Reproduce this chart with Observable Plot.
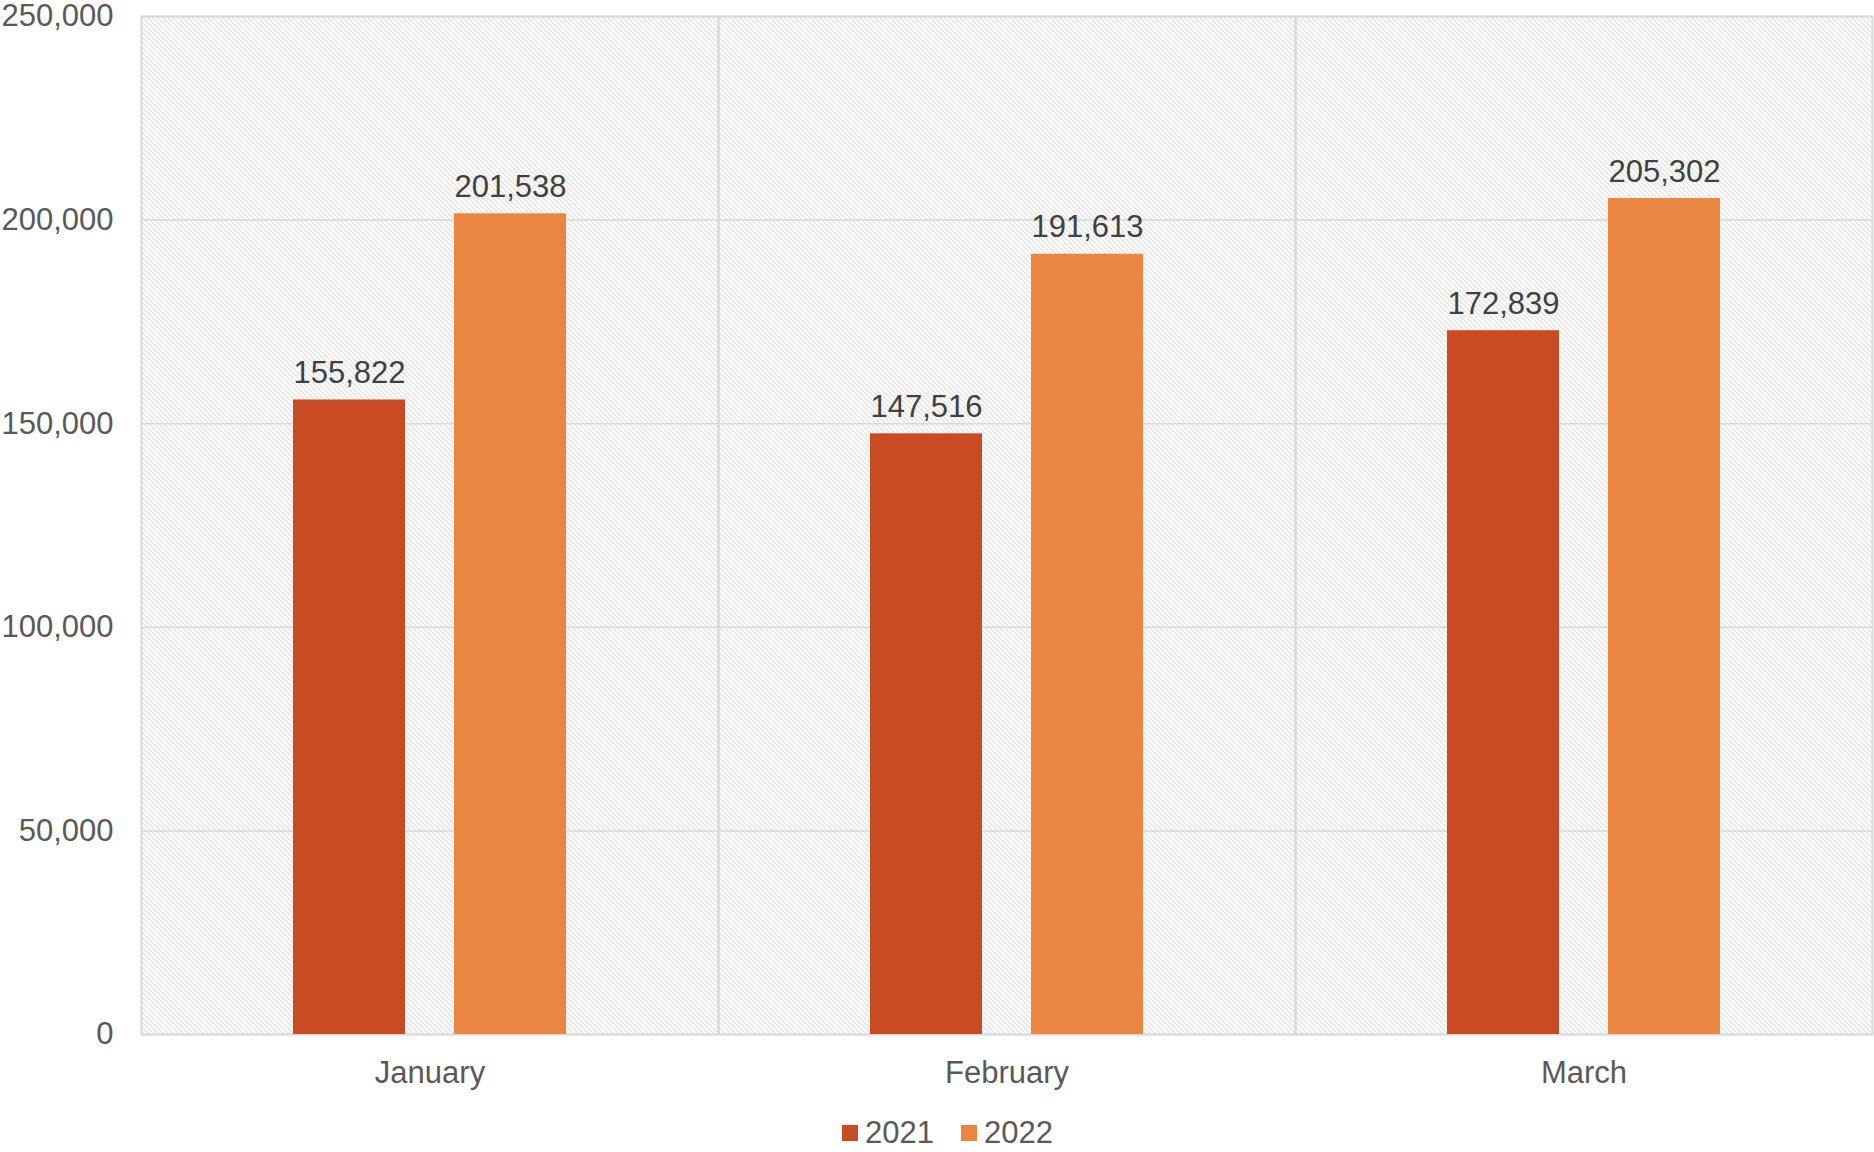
<!DOCTYPE html>
<html>
<head>
<meta charset="utf-8">
<script src="https://cdn.jsdelivr.net/npm/d3@7"></script>
<script src="https://cdn.jsdelivr.net/npm/@observablehq/plot@0.6"></script>
<style>
  body { margin: 0; background: #fff; font-family: "Liberation Sans", Arial, sans-serif; }
  #chart svg { display: block; }
  #legend { margin-top: 15px; margin-left: 842px; }
  #legend div { justify-content: flex-start !important; min-height: 0 !important; }
  #legend span { margin-right: 27px !important; line-height: normal; }
  #legend span svg { margin-right: 7px !important; }
</style>
</head>
<body>
<div id="chart"></div>
<div id="legend"></div>
<script>
const months = ["January", "February", "March"];
const years = ["2021", "2022"];
const values2021 = [155822, 147516, 172839];
const values2022 = [201538, 191613, 205302];
const yTicks = [0, 50000, 100000, 150000, 200000, 250000];
const colors = ["#C84B24", "#EA8641"];

const data = months.flatMap((m, i) => [
  {month: m, year: years[0], value: values2021[i]},
  {month: m, year: years[1], value: values2022[i]}
]);

const fmt = d3.format(",");
const font = '"Liberation Sans", Arial, sans-serif';

const plot = Plot.plot({
  width: 1874,
  height: 1100,
  marginLeft: 141,
  marginRight: 2,
  marginTop: 16,
  marginBottom: 66,
  style: {fontFamily: font, fontSize: "31px", color: "#595959", background: "#fff"},
  fx: {domain: months, padding: 0, label: null, axis: "bottom", tickSize: 0, tickPadding: 26},
  x: {domain: years, axis: null, paddingInner: 0.302, paddingOuter: 0.932},
  y: {domain: [0, 250000], ticks: yTicks, tickSize: 0, tickPadding: 28, tickFormat: fmt, label: null},
  color: {domain: years, range: colors},
  marks: [
    Plot.frame({fill: "url(#hatch)", stroke: null}),
    Plot.gridY(yTicks, {stroke: "#d9d9d9", strokeOpacity: 1, strokeWidth: 1.5}),
    Plot.frame({stroke: "#d9d9d9", strokeWidth: 2}),
    Plot.barY(data, {fx: "month", x: "year", y: "value", fill: "year"}),
    Plot.text(data, {
      fx: "month", x: "year", y: "value",
      text: d => fmt(d.value),
      lineAnchor: "bottom", dy: -17,
      fill: "#404040", fontSize: 31, fontFamily: font
    })
  ]
});

const ns = "http://www.w3.org/2000/svg";
const defs = document.createElementNS(ns, "defs");
const pat = document.createElementNS(ns, "pattern");
const P = 5;
pat.setAttribute("id", "hatch");
pat.setAttribute("width", P);
pat.setAttribute("height", P);
pat.setAttribute("patternUnits", "userSpaceOnUse");
const bg = document.createElementNS(ns, "rect");
bg.setAttribute("width", P); bg.setAttribute("height", P); bg.setAttribute("fill", "#ffffff");
pat.appendChild(bg);
for (let k = 0; k < P; k++) {
  const r = document.createElementNS(ns, "rect");
  r.setAttribute("x", k); r.setAttribute("y", k);
  r.setAttribute("width", "1"); r.setAttribute("height", "1");
  r.setAttribute("fill", "#c6c6c6");
  pat.appendChild(r);
}
defs.appendChild(pat);
plot.insertBefore(defs, plot.firstChild);

document.getElementById("chart").appendChild(plot);

const legend = plot.legend("color", {
  swatchSize: 16,
  style: {fontFamily: font, fontSize: "31px", color: "#595959"}
});
document.getElementById("legend").appendChild(legend);
</script>
</body>
</html>
